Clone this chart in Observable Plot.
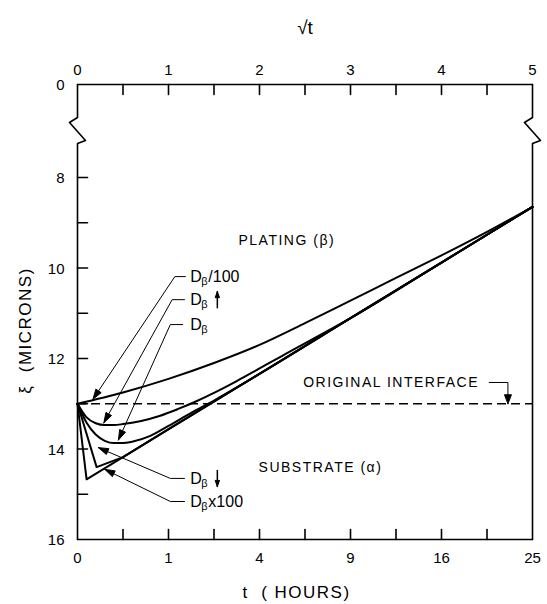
<!DOCTYPE html>
<html><head><meta charset="utf-8">
<script src="https://cdn.jsdelivr.net/npm/d3@7"></script>
<script src="https://cdn.jsdelivr.net/npm/@observablehq/plot@0.6"></script>
<style>body{margin:0;background:#fff} svg{display:block}</style>
</head><body><div id="chart"></div>
<script>
// ---- data (x = sqrt(t hours), y = xi microns) ----
const topTickValues = [0, 1, 2, 3, 4, 5];
const topTickLabels = ["0", "1", "2", "3", "4", "5"];
const bottomTickLabels = ["0", "1", "4", "9", "16", "25"];
const halfTicks = [0.5, 1, 1.5, 2, 2.5, 3, 3.5, 4, 4.5];
const yMinorTicks = [8, 9, 10, 11, 12, 13, 14, 15];
const yTickValues = [0, 8, 10, 12, 14, 16];
const interfaceLevel = 13;

const seriesNames = ["Dβ/100", "Dβ↑", "Dβ", "Dβ↓", "Dβx100"];
const over100X = [0, 0.5, 1, 1.5, 2, 2.5, 3, 3.5, 4, 4.5, 5];
const over100Y = [13, 12.75, 12.45, 12.1, 11.7, 11.22, 10.72, 10.22, 9.72, 9.2, 8.65];
const upX = [0, 0.1, 0.2, 0.3, 0.4, 0.5, 0.7, 0.9, 1.1, 1.3, 1.5, 1.75, 2, 2.25, 3, 4, 5];
const upY = [13, 13.3, 13.43, 13.47, 13.47, 13.45, 13.38, 13.27, 13.12, 12.95, 12.76, 12.5, 12.22, 11.94, 11.11, 9.88, 8.65];
const betaX = [0, 0.1, 0.2, 0.3, 0.4, 0.5, 0.6, 0.8, 1.0, 1.25, 1.5, 1.75, 2, 3, 4, 5];
const betaY = [13, 13.42, 13.68, 13.82, 13.87, 13.87, 13.84, 13.71, 13.49, 13.2, 12.93, 12.64, 12.34, 11.11, 9.88, 8.65];
const downX = [0, 0.21, 0.5, 1, 2, 3, 4, 5];
const downY = [13, 14.4, 14.18, 13.56, 12.34, 11.11, 9.88, 8.65];
const times100X = [0, 0.1, 5];
const times100Y = [13, 14.67, 8.65];

// leader annotations
const leaderSuffix = ["/100", "", "", "", "x100"];
const leaderArrow = [0, -1, 0, 1, 0]; // -1 = up arrow, 1 = down arrow after the label
const leaderTextY = [10.19, 10.70, 11.25, 14.65, 15.16];
const leaderCornerX = [1.07, 1.04, 1.02, 1.02, 1.02];
const leaderEndX = [1.19, 1.18, 1.16, 1.18, 1.18];
const leaderTipX = [0.17, 0.29, 0.45, 0.23, 0.30];
const leaderTipY = [12.9, 13.42, 13.8, 13.97, 14.45];
const leaderTextX = 1.24;

const regionLabels = ["PLATING (β)", "SUBSTRATE (α)"];
const regionX = [2.3, 2.67];
const regionY = [9.39, 14.41];
const interfaceLabel = "ORIGINAL INTERFACE";

// ---- broken y axis: values below 7 are compressed ----
const W = 547, H = 604;
const breakAt = 7, squeeze = (131.75 - 84) / 7 / 45.25;
const yT = v => v >= breakAt ? v : breakAt - (breakAt - v) * squeeze;
const xDomain = [0, 5], xRange = [77, 532];
const yDomainT = [yT(0), 16], yRange = [84, 539];
// mirrored scales (for pixel-sized decorations)
const xs = d3.scaleLinear(xDomain, xRange);
const ys = d3.scaleLinear([0, 7, 16], [84, 131.75, 539]);
const ix = p => xs.invert(p), iy = p => ys.invert(p);

const curveDefs = [
  {name: seriesNames[0], x: over100X, y: over100Y, curve: "monotone-x"},
  {name: seriesNames[1], x: upX, y: upY, curve: "monotone-x"},
  {name: seriesNames[2], x: betaX, y: betaY, curve: "monotone-x"},
  {name: seriesNames[3], x: downX, y: downY, curve: "linear"},
  {name: seriesNames[4], x: times100X, y: times100Y, curve: "linear"}
];
const rows = c => c.x.map((x, i) => ({name: c.name, x, y: c.y[i]}));
const seg = (id, x1, y1, x2, y2) => [{id, x: x1, y: y1}, {id, x: x2, y: y2}];

// frame sides with break symbols
function sideRows(xv, id) {
  const px = xs(xv);
  const zig = [[0, 117], [-8, 122], [8, 140], [0, 143]];
  return [{id, x: xv, y: 0}, ...zig.map(([dx, py]) => ({id, x: ix(px + dx), y: iy(py)})), {id, x: xv, y: 16}];
}
const tickLen = 10;
const topEnd = iy(ys(0) + tickLen), botEnd = iy(ys(16) - tickLen), leftEnd = ix(xs(0) + tickLen);
const frameRows = [...sideRows(0, "L"), ...sideRows(5, "R"), ...seg("T", 0, 0, 5, 0), ...seg("B", 0, 16, 5, 16)];
const tickRows = [
  ...halfTicks.flatMap(v => seg("t" + v, v, 0, v, topEnd)),
  ...halfTicks.flatMap(v => seg("b" + v, v, 16, v, botEnd)),
  ...yMinorTicks.flatMap(v => seg("l" + v, 0, v, leftEnd, v))
];

// arrowheads
function head(id, tx, ty, fx, fy, len = 10, half = 3.2) {
  const P = [xs(tx), ys(ty)], C = [xs(fx), ys(fy)];
  const dx = P[0] - C[0], dy = P[1] - C[1], d = Math.hypot(dx, dy);
  const ux = dx / d, uy = dy / d, nx = -uy, ny = ux;
  const bx = P[0] - len * ux, by = P[1] - len * uy;
  return [[P[0], P[1]], [bx + half * nx, by + half * ny], [bx - half * nx, by - half * ny], [P[0], P[1]]]
    .map(([a, b]) => ({id, x: ix(a), y: iy(b)}));
}
const leaders = seriesNames.map((n, i) => ({
  i, tx: leaderTipX[i], ty: leaderTipY[i], cx: leaderCornerX[i], ex: leaderEndX[i], y: leaderTextY[i]
}));
const ifaceCornerX = 4.52, ifaceTipX = 4.73, ifaceY = 12.53, ifaceTextX = 2.48;
const smallArrows = leaders.filter(l => leaderArrow[l.i] !== 0).map(l => {
  const px = xs(leaderTextX) + 27, py = ys(l.y), s = leaderArrow[l.i];
  return {id: "s" + l.i, x: ix(px), yFrom: iy(py - 8 * s), yTip: iy(py + 8 * s)};
});
const shaftRows = smallArrows.flatMap(a => seg(a.id, a.x, a.yFrom, a.x, a.yTip));
const headRows = [
  ...leaders.flatMap(l => head("h" + l.i, l.tx, l.ty, l.cx, l.y)),
  ...head("hi", ifaceTipX, interfaceLevel, ifaceTipX, ifaceY, 9, 3.5),
  ...smallArrows.flatMap(a => head("hs" + a.id, a.x, a.yTip, a.x, a.yFrom, 6, 2.2))
];

const font = "Liberation Sans, Arial, Helvetica, sans-serif";

const plot = Plot.plot({
  width: W, height: H,
  marginTop: 84, marginBottom: 65, marginLeft: 77, marginRight: 15,
  style: {fontFamily: font, background: "#fff", color: "#000"},
  x: {domain: xDomain, range: xRange, axis: null},
  y: {domain: yDomainT, range: yRange, transform: yT, axis: null},
  marks: [
    Plot.line(tickRows, {x: "x", y: "y", z: "id", strokeWidth: 1.6}),
    Plot.line(frameRows, {x: "x", y: "y", z: "id", strokeWidth: 1.6}),
    Plot.line(shaftRows, {x: "x", y: "y", z: "id", strokeWidth: 1.5}),
    // tick labels
    Plot.text(topTickValues, {x: d => d, y: () => iy(70), text: (d, i) => topTickLabels[i], fontSize: 15}),
    Plot.text(topTickValues, {x: d => d, y: () => iy(558), text: (d, i) => bottomTickLabels[i], fontSize: 15}),
    Plot.text(yTickValues, {x: () => ix(64), y: d => d, text: d => String(d), textAnchor: "end", fontSize: 15, dy: 1}),
    // axis titles
    Plot.text(["√t"], {x: () => 2.5, y: () => iy(27), text: d => d, fontSize: 19}),
    Plot.text(["t  ( HOURS)"], {x: () => ix(242), y: () => iy(592), text: d => d, textAnchor: "start", fontSize: 17}),
    Plot.text(["ξ  (MICRONS)"], {x: () => ix(25), y: () => iy(330), text: d => d, rotate: -90, fontSize: 17}),
    // original interface
    Plot.ruleY([interfaceLevel], {x1: 0, x2: 5, strokeWidth: 1.5, strokeDasharray: "9,5"}),
    // curves
    ...curveDefs.map(c => Plot.line(rows(c), {x: "x", y: "y", strokeWidth: 2, curve: c.curve})),
    // leaders
    Plot.link(leaders, {x1: "cx", y1: "y", x2: "tx", y2: "ty", strokeWidth: 1}),
    Plot.link(leaders, {x1: "cx", y1: "y", x2: "ex", y2: "y", strokeWidth: 1}),
    Plot.link([0], {x1: () => ifaceCornerX, y1: () => ifaceY, x2: () => ifaceTipX, y2: () => ifaceY, strokeWidth: 1}),
    Plot.link([0], {x1: () => ifaceTipX, y1: () => ifaceY, x2: () => ifaceTipX, y2: () => interfaceLevel, strokeWidth: 1}),
    Plot.line(headRows, {x: "x", y: "y", z: "id", fill: "#000", stroke: "#000", strokeWidth: 1}),
    // leader labels: D, subscript beta, suffix
    Plot.text(leaders, {x: () => leaderTextX, y: "y", text: () => "D", textAnchor: "start", fontSize: 16}),
    Plot.text(leaders, {x: () => leaderTextX, y: "y", text: () => "β", textAnchor: "start", fontSize: 11, dx: 11, dy: 5}),
    Plot.text(leaders, {x: () => leaderTextX, y: "y", text: l => leaderSuffix[l.i], textAnchor: "start", fontSize: 16, dx: 18}),
    // region labels
    Plot.text(regionLabels, {x: (d, i) => regionX[i], y: (d, i) => regionY[i], text: d => d, fontSize: 14}),
    Plot.text([interfaceLabel], {x: () => ifaceTextX, y: () => ifaceY, text: d => d, textAnchor: "start", fontSize: 14})
  ]
});
// letter spacing for the hand-lettered captions
d3.select(plot).selectAll("text").each(function() {
  if (/[A-Z]{4}/.test(this.textContent)) d3.select(this).attr("letter-spacing", "1.5");
});
document.getElementById("chart").append(plot);
</script></body></html>
